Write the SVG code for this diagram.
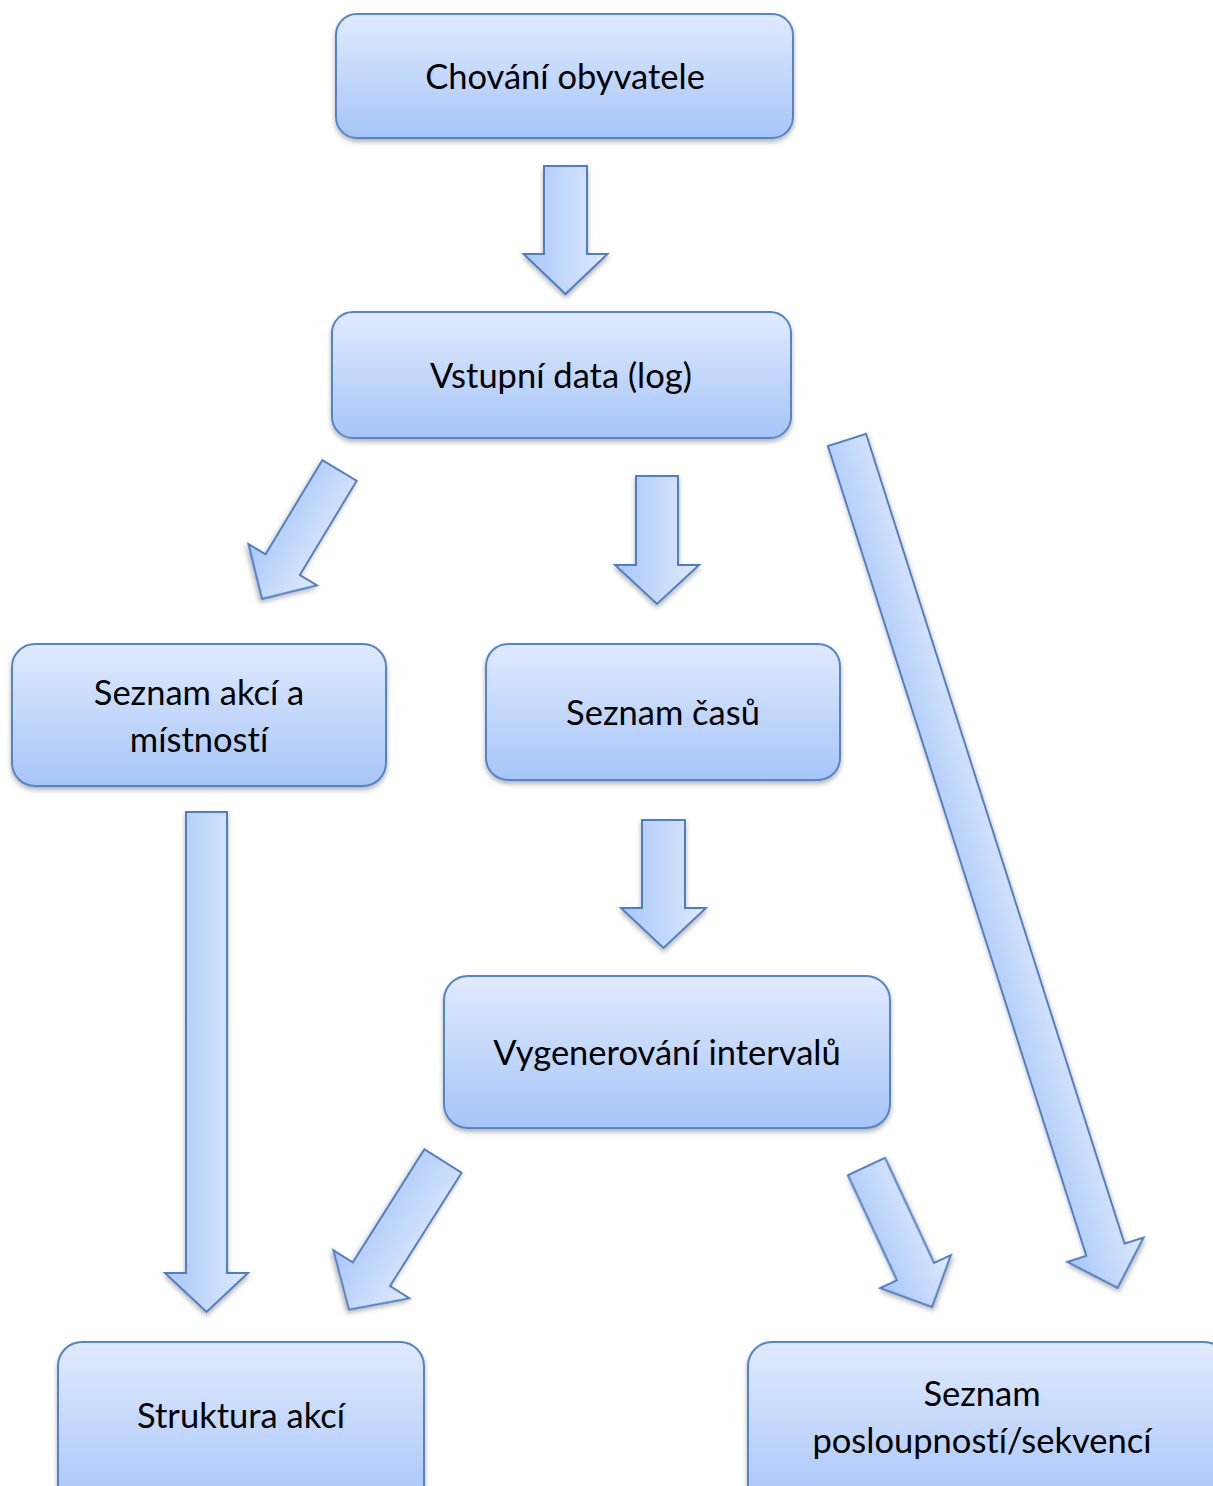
<svg xmlns="http://www.w3.org/2000/svg" width="1213" height="1486" viewBox="0 0 1213 1486">
  <style>
    .box { fill: url(#boxFill); stroke: #5585c6; stroke-width: 2; filter: url(#shadow); }
    .arrow { fill: url(#arrowFill); stroke: #4f7fbf; stroke-width: 2; stroke-linejoin: miter; filter: url(#shadow); }
    .label { font-family: Lato, "Open Sans", "Liberation Sans", sans-serif; font-size: 34.5px; fill: #000; text-anchor: middle; font-variant-ligatures: none; }
  </style>
  <defs>
    <linearGradient id="boxFill" x1="0" y1="0" x2="0" y2="1">
      <stop offset="0" stop-color="#e0eafd"/>
      <stop offset="1" stop-color="#a6c5f8"/>
    </linearGradient>
    <linearGradient id="arrowFill" x1="0" y1="0" x2="1" y2="0">
      <stop offset="0" stop-color="#a8c6f8"/>
      <stop offset="1" stop-color="#dfeafd"/>
    </linearGradient>
    <filter id="shadow" x="-10%" y="-10%" width="120%" height="130%">
      <feDropShadow dx="0" dy="3" stdDeviation="2.5" flood-color="#000" flood-opacity="0.3"/>
    </filter>
  </defs>

  <rect width="1213" height="1486" fill="#fff"/>

  <!-- block arrows between the stages -->
  <g id="connectors">
    <!-- Chování obyvatele -> Vstupní data -->
    <polygon class="arrow" transform="translate(565.5,166)" points="-21.5,0 21.5,0 21.5,88 42,88 0,128 -42,88 -21.5,88"/>
    <!-- Vstupní data -> Seznam akcí a místností -->
    <polygon class="arrow" transform="translate(339.5,470.5) rotate(31.1)" points="-20,0 20,0 20,110 40,110 0,150 -40,110 -20,110"/>
    <!-- Vstupní data -> Seznam časů -->
    <polygon class="arrow" transform="translate(657,476)" points="-21,0 21,0 21,89 42,89 0,128 -42,89 -21,89"/>
    <!-- Vstupní data -> Seznam posloupností/sekvencí -->
    <polygon class="arrow" transform="translate(847,440) rotate(-17.7)" points="-20,0 20,0 20,850 40,850 0,890 -40,850 -20,850"/>
    <!-- Seznam akcí a místností -> Struktura akcí -->
    <polygon class="arrow" transform="translate(206.5,812)" points="-20.5,0 20.5,0 20.5,461 41.5,461 0,500 -41.5,461 -20.5,461"/>
    <!-- Seznam časů -> Vygenerování intervalů -->
    <polygon class="arrow" transform="translate(663.5,820)" points="-21.5,0 21.5,0 21.5,88 42.5,88 0,128 -42.5,88 -21.5,88"/>
    <!-- Vygenerování intervalů -> Struktura akcí -->
    <polygon class="arrow" transform="translate(443,1161) rotate(32.3)" points="-22,0 22,0 22,134 45,134 0,176 -45,134 -22,134"/>
    <!-- Vygenerování intervalů -> Seznam posloupností/sekvencí -->
    <polygon class="arrow" transform="translate(866.5,1166.5) rotate(-25)" points="-20.5,0 20.5,0 20.5,116 39,116 0,155 -39,116 -20.5,116"/>
  </g>

  <g id="node-chovani">
    <rect class="box" x="336" y="14" width="457" height="124" rx="21"/>
    <text class="label" x="565" y="89">Chování obyvatele</text>
  </g>

  <g id="node-vstupni-data">
    <rect class="box" x="332" y="312" width="459" height="126" rx="21"/>
    <text class="label" x="561" y="388">Vstupní data (log)</text>
  </g>

  <g id="node-seznam-akci">
    <rect class="box" x="12" y="644" width="374" height="142" rx="23"/>
    <text class="label" x="199" y="705">Seznam akcí a</text>
    <text class="label" x="199" y="752">místností</text>
  </g>

  <g id="node-seznam-casu">
    <rect class="box" x="486" y="644" width="354" height="136" rx="22"/>
    <text class="label" x="663" y="725">Seznam časů</text>
  </g>

  <g id="node-intervaly">
    <rect class="box" x="444" y="976" width="446" height="152" rx="24"/>
    <text class="label" x="667" y="1065">Vygenerování intervalů</text>
  </g>

  <g id="node-struktura">
    <rect class="box" x="58" y="1342" width="366" height="170" rx="24"/>
    <text class="label" x="241" y="1428">Struktura akcí</text>
  </g>

  <g id="node-sekvence">
    <rect class="box" x="748" y="1342" width="480" height="170" rx="24"/>
    <text class="label" x="982" y="1406">Seznam</text>
    <text class="label" x="982" y="1453">posloupností/sekvencí</text>
  </g>
</svg>
